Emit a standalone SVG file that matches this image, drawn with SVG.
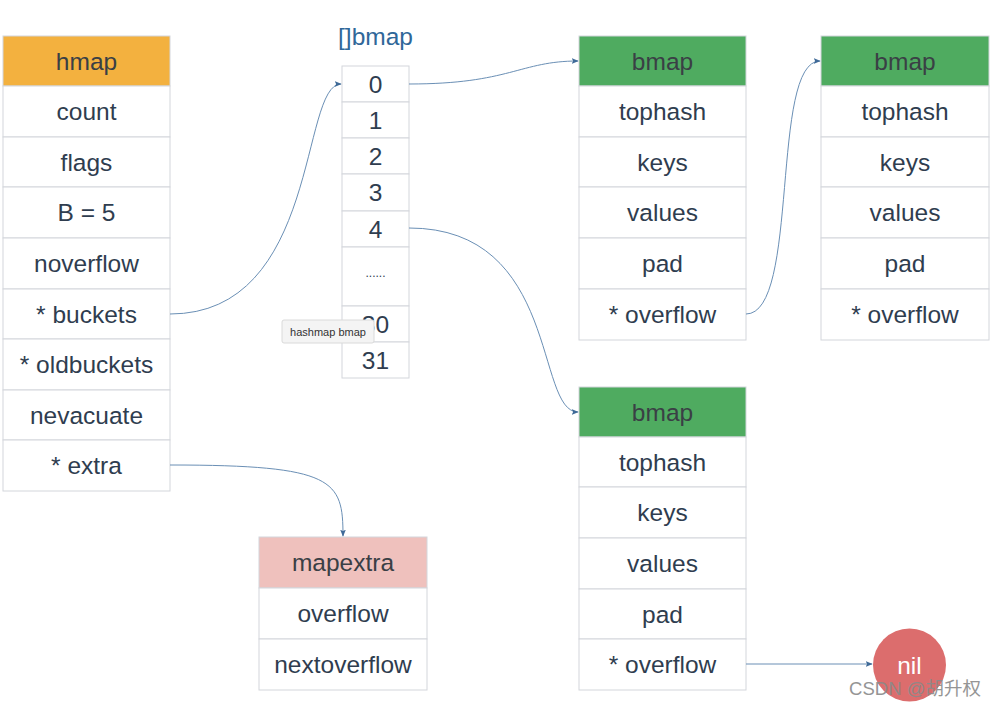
<svg xmlns="http://www.w3.org/2000/svg" width="996" height="705" viewBox="0 0 996 705">
<defs>
<style>
.cell{fill:#fff;stroke:#d3d6db;stroke-width:1}
.hm{fill:#f3b13f;stroke:#d3d6db}
.bm{fill:#4fab60;stroke:#d3d6db}
.mx{fill:#efc1bd;stroke:#d3d6db}
text{font-family:"Liberation Sans",Arial,sans-serif;font-size:24.5px;fill:#2f3d4f;text-anchor:middle;dominant-baseline:central}
.hd{fill:#3a3f45}
.conn{fill:none;stroke:#6a8fb5;stroke-width:1}
</style>
<marker id="ah" viewBox="0 0 10 10" refX="9" refY="5" markerWidth="7" markerHeight="7" orient="auto">
<path d="M0,1 L10,5 L0,9 L2,5 Z" fill="#3f6a98"/>
</marker>
</defs>
<rect width="996" height="705" fill="#fff"/>

<g id="hmap">
<rect class="hm" x="3" y="36" width="167" height="50"/>
<text class="hd" x="86.5" y="61">hmap</text>
<rect class="cell" x="3" y="86" width="167" height="51"/><text x="86.5" y="111.5">count</text>
<rect class="cell" x="3" y="137" width="167" height="50"/><text x="86.5" y="162">flags</text>
<rect class="cell" x="3" y="187" width="167" height="51"/><text x="86.5" y="212.5">B = 5</text>
<rect class="cell" x="3" y="238" width="167" height="51"/><text x="86.5" y="263.5">noverflow</text>
<rect class="cell" x="3" y="289" width="167" height="50"/><text x="86.5" y="314">* buckets</text>
<rect class="cell" x="3" y="339" width="167" height="51"/><text x="86.5" y="364.5">* oldbuckets</text>
<rect class="cell" x="3" y="390" width="167" height="50"/><text x="86.5" y="415">nevacuate</text>
<rect class="cell" x="3" y="440" width="167" height="51"/><text x="86.5" y="465.5">* extra</text>
</g>

<g id="bmap-array">
<text x="375.5" y="36" style="fill:#2f6799">[]bmap</text>
<rect class="cell" x="342" y="66" width="67" height="36"/><text x="375.5" y="84">0</text>
<rect class="cell" x="342" y="102" width="67" height="36"/><text x="375.5" y="120">1</text>
<rect class="cell" x="342" y="138" width="67" height="36"/><text x="375.5" y="156">2</text>
<rect class="cell" x="342" y="174" width="67" height="37"/><text x="375.5" y="192.5">3</text>
<rect class="cell" x="342" y="211" width="67" height="36"/><text x="375.5" y="229">4</text>
<rect class="cell" x="342" y="247" width="67" height="59"/><text x="375.5" y="273" style="font-size:12px">......</text>
<rect class="cell" x="342" y="306" width="67" height="36"/><text x="375.5" y="324">30</text>
<rect class="cell" x="342" y="342" width="67" height="36"/><text x="375.5" y="360">31</text>
</g>

<g id="bmap1">
<rect class="bm" x="579" y="36" width="167" height="50"/><text class="hd" x="662.5" y="61">bmap</text>
<rect class="cell" x="579" y="86" width="167" height="51"/><text x="662.5" y="111.5">tophash</text>
<rect class="cell" x="579" y="137" width="167" height="50"/><text x="662.5" y="162">keys</text>
<rect class="cell" x="579" y="187" width="167" height="51"/><text x="662.5" y="212.5">values</text>
<rect class="cell" x="579" y="238" width="167" height="51"/><text x="662.5" y="263.5">pad</text>
<rect class="cell" x="579" y="289" width="167" height="51"/><text x="662.5" y="314.5">* overflow</text>
</g>

<g id="bmap2">
<rect class="bm" x="821" y="36" width="168" height="50"/><text class="hd" x="905" y="61">bmap</text>
<rect class="cell" x="821" y="86" width="168" height="51"/><text x="905" y="111.5">tophash</text>
<rect class="cell" x="821" y="137" width="168" height="50"/><text x="905" y="162">keys</text>
<rect class="cell" x="821" y="187" width="168" height="51"/><text x="905" y="212.5">values</text>
<rect class="cell" x="821" y="238" width="168" height="51"/><text x="905" y="263.5">pad</text>
<rect class="cell" x="821" y="289" width="168" height="51"/><text x="905" y="314.5">* overflow</text>
</g>

<g id="bmap3">
<rect class="bm" x="579" y="387" width="167" height="50"/><text class="hd" x="662.5" y="412">bmap</text>
<rect class="cell" x="579" y="437" width="167" height="50"/><text x="662.5" y="462">tophash</text>
<rect class="cell" x="579" y="487" width="167" height="51"/><text x="662.5" y="512.5">keys</text>
<rect class="cell" x="579" y="538" width="167" height="51"/><text x="662.5" y="563.5">values</text>
<rect class="cell" x="579" y="589" width="167" height="50"/><text x="662.5" y="614">pad</text>
<rect class="cell" x="579" y="639" width="167" height="51"/><text x="662.5" y="664.5">* overflow</text>
</g>

<g id="mapextra">
<rect class="mx" x="259" y="537" width="168" height="51"/><text class="hd" x="343" y="562.5">mapextra</text>
<rect class="cell" x="259" y="588" width="168" height="51"/><text x="343" y="613.5">overflow</text>
<rect class="cell" x="259" y="639" width="168" height="51"/><text x="343" y="664.5">nextoverflow</text>
</g>

<g id="nil">
<circle cx="909.5" cy="665" r="36.5" fill="#dc6d6d"/>
<text x="909.5" y="665" style="fill:#fff">nil</text>
</g>

<g id="connectors">
<path class="conn" marker-end="url(#ah)" d="M170,314 C320,314 300,84 341,84"/>
<path class="conn" marker-end="url(#ah)" d="M409,84 C510,84 520,61 578,61"/>
<path class="conn" marker-end="url(#ah)" d="M409,228 C560,228 535,412 578,412"/>
<path class="conn" marker-end="url(#ah)" d="M746,314 C800,314 770,61 820,61"/>
<path class="conn" marker-end="url(#ah)" d="M170,465 C335,465 343,480 343,536"/>
<path class="conn" marker-end="url(#ah)" d="M746,664 L872,664"/>
</g>

<g id="tooltip">
<rect x="282" y="320" width="92" height="23" rx="2" fill="#f4f4f4" stroke="#dadada"/>
<text x="328" y="331.5" style="font-size:11px;fill:#333">hashmap bmap</text>
</g>

<text x="915" y="688" style="font-family:'Liberation Sans','Noto Sans CJK SC',sans-serif;font-size:18.5px;fill:#8a8a8a;opacity:0.9">CSDN @胡升权</text>
</svg>
